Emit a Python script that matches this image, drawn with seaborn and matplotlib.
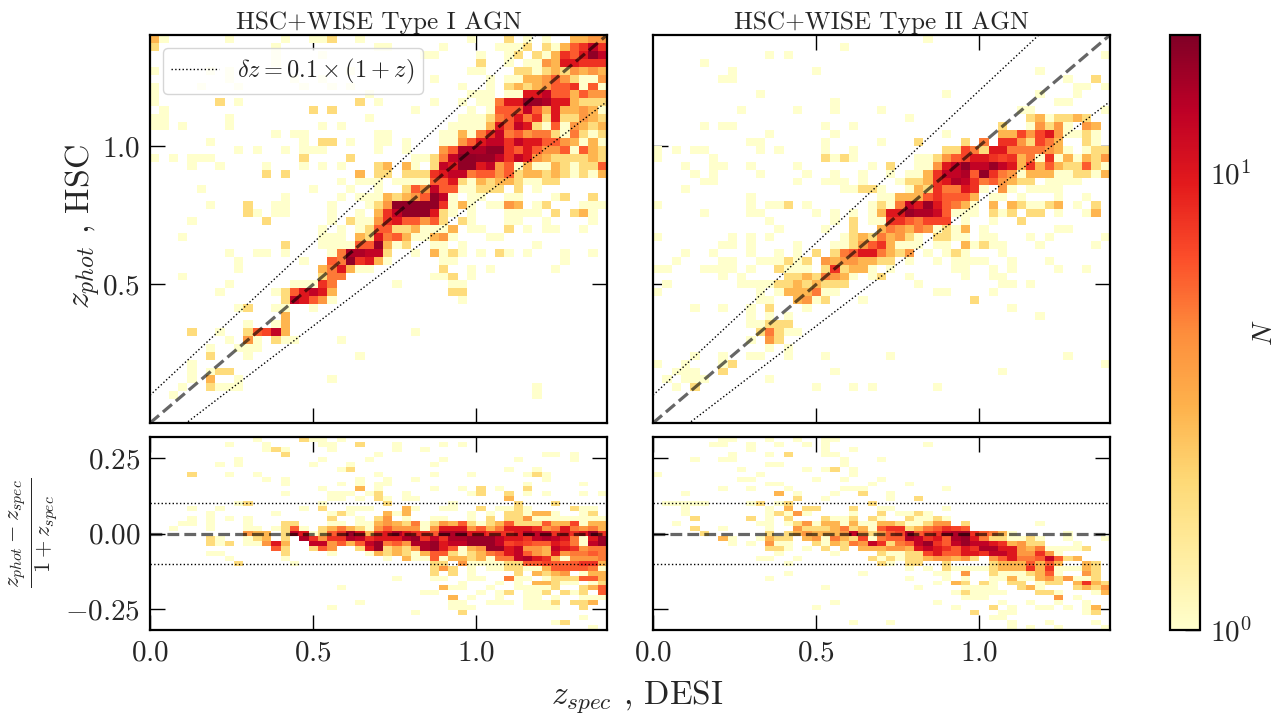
"""Photo-z vs spec-z density maps for the HSC+WISE Type I / Type II AGN samples."""
import matplotlib
matplotlib.use("Agg")
import matplotlib.pyplot as plt
import numpy as np
import seaborn as sns
from matplotlib.colors import LogNorm

sns.set_style("white")
plt.rcParams["font.family"] = "serif"
plt.rcParams["font.serif"] = ["cmr10", "DejaVu Serif"]
plt.rcParams["mathtext.fontset"] = "cm"
plt.rcParams["axes.formatter.use_mathtext"] = True
plt.rcParams["axes.unicode_minus"] = False

Z_MAX = 1.4
DZ_MAX = 0.32
N_COLS = 49
N_MAIN_ROWS = 49
N_RES_ROWS = 39

X_TICKS = [0.5, 1.0]
X_TICKS_BOTTOM = [0.0, 0.5, 1.0]
Y_TICKS_MAIN = [0.5, 1.0]
Y_TICKS_RES = [0.25, 0.0, -0.25]
Y_LABELS_RES = ["$0.25$", "$0.00$", "$-0.25$"]
CBAR_MAX = 20

# cell counts, one string per row from the top, "col:N" or "first-last:N"
TYPE1_MAIN = [
    "0:3 1:1 8:1 14:1 17-18:1 19:2 22:1 34:1 38:2 40:1 42:1 45-46:3 47-48:4",
    "0:2 13:1 24-25:1 31:1 37-39:1 40:2 42:2 43:1 44:3 45:6 46:8 47:13 48:8",
    "13:1 18:1 29-30:1 35:1 38:1 39:2 41:2 42:1 43:3 44:8 45:6 46:10 47:18 48:13",
    "13:1 35:2 38:1 40-41:1 42:4 43:3 44-45:10 46-48:8",
    "0:1 6:1 8:1 21:1 34-35:1 39-40:2 41:1 42:2 43:3 44:2 45:4 46:3 47:4 48:3",
    "8:1 15:1 18:1 30:1 36:1 38-39:1 40-41:3 42:4 43:6 44:4 45:2 46-47:1 48:4",
    "0:1 5:1 9:1 16:1 19:1 21:1 33:1 36:1 38:2 39:3 40:2 41:3 42:4 43-44:6 45:8 46:1 47:6 48:1",
    "0:1 23:1 34-36:1 38-39:1 40-41:10 42:13 43-44:6 45:3 46:6 47-48:4",
    "0:1 7:2 9:1 22:2 24:1 30:1 33:1 35-36:1 37:5 38-39:10 40-41:17 42:15 43-44:10 45:3 46-48:2",
    "1:1 17:2 19:2 28:1 34:1 36:1 37-39:6 40:13 41:6 42:3 43:10 44-45:3 46:4 47:3 48:1",
    "0-1:1 8:1 23:1 33-35:1 36:2 37:5 38:6 39:10 40:5 41:8 42:2 43:10 44-45:2 46:4 47:3 48:2",
    "0-1:1 3:1 8:1 18:1 20:1 32-35:1 36:3 37:10 38:6 39:13 40:10 41:2 42:1 43:6 44:1 45:4 46:3 47:2 48:3",
    "13:1 15-16:1 24-25:1 31-32:1 33:3 34:1 35:5 36:8 37:13 38:5 39:6 40:4 41-42:5 43:2 44:1 45:5 46:2 47:1 48:2",
    "6:1 16:1 18-19:2 21:1 24-25:1 27:1 31-32:1 33:4 34:6 35:10 36-37:13 38:8 39:13 40-41:10 42-43:6 44:4 45:3 46:1 47:3 48:1",
    "9:1 11:1 14:1 16-18:1 24:1 27:1 31:4 32:6 33-35:15 36-37:18 38:8 39:6 40:10 41:6 42-43:4 44:6 45:1 46:6 47:3 48:2",
    "0:1 2:1 4-6:1 16:2 21:2 28-29:1 30:2 31:5 32:13 33-34:18 35-36:17 37:13 38:8 39:13 40:10 41:4 42:3 43-46:2 47:3 48:2",
    "4:1 7:1 12:1 16:1 18:1 20:1 24:2 25:3 27:3 28:1 30:2 31:13 32:10 33-34:18 35:10 36:13 37:4 38:6 39:1 40:3 41-42:1 43:3 44:2 45:1 46-47:2 48:6",
    "12:2 14:2 22:3 24-25:2 27-29:2 30:8 31:10 32-33:13 34:5 35-36:6 37:4 38:6 39:2 40-41:3 42:2 43:3 44:2 45:1 46:2 47:1 48:3",
    "20:1 22-24:1 26-29:1 30-31:6 32:10 33:2 34:1 35:3 36:2 37-38:3 39:2 40-41:1 42-43:2",
    "5:1 17:1 21:1 24:1 27:2 28:6 29:4 30:13 31-32:6 33-34:1 35-37:2 39:2 41:1",
    "14:1 20:1 22-23:1 24:1 25:3 26:2 27:3 28:4 29:6 30:18 31:13 32:1 34-35:1 38-39:1 43:1 44:2 47:2",
    "6:1 10:2 13-14:1 19:1 23:1 24:2 25:4 26-30:18 31:8 32:1 33:3 34:1 36-37:1 38:4 39:3 41:1 42:2 46-48:1",
    "10:2 11:1 13-14:1 19:1 22:1 24:3 25:8 26:13 27-29:18 30:10 31:2 32:1 34:1 38-41:1 43:2 45:2 46:3 47:1",
    "4:1 12:2 19:1 21:2 22-23:1 24:4 25:8 26:10 27-28:6 29:4 30:6 31:2 33:2 34:1 38-39:1 42:1 47:1",
    "18:1 20:1 22:1 23:2 24:6 25:6 26-27:2 28:3 29-31:1 32:3 34-35:1 38:2 40:1 42-43:1 46:1",
    "3:1 18-20:1 22:3 23:2 24:10 25:5 26:6 27:3 28-29:1 30:3 31:4 32:1 36-37:1",
    "14:2 18-21:1 22-23:6 24:17 25:3 26:1 27:2 30-31:1 33:1 41:1",
    "8:1 11-12:1 14:1 19:1 20:5 21-22:15 23-24:13 25:2 28:1 30:3 31:1 32:2 33:1 35:1 37:2 38:1 40:1 44:1 47:1",
    "9:1 16:1 19:6 20:5 21:18 22:8 23:10 24:3 25:1 31-32:1 44:1",
    "9:1 18:3 19:5 20:10 21:3 22-23:1 31:2 34:1 36:1 43:1",
    "3:1 18:2 19-20:5 30-31:1 32:2 34:1",
    "8:1 15-17:1 18:8 19:5 26:1 32-33:1",
    "7:1 13:1 14:2 15:6 16:10 17:13 18:10 19:3 32-33:2",
    "14:2 15:13 16:10 17:6 18:4 19:1 33:1",
    "9:1 10:2 13-14:1 17:1",
    "14:3",
    "10:1 13:1 14:3",
    "4:2 7:1 10:2 11:6 12:7 13:13 14:3 28:1",
    "8:1 10:4 11:1 13:2 14-15:1 20:1",
    "6:1 9-11:1",
    "6:2 10:1 22:1",
    "4:1",
    "4:1 6:1 7-8:2",
    "4:1 6:3 9:1 19:1",
    "3:1 6:2 7-9:1 41:1",
    "2:1 41:1",
    "", "", "",
]

TYPE2_MAIN = [
    "29:1",
    "20:1",
    "12:1 14:1 48:1",
    "5:1",
    "8:1 17:1 41:1",
    "7-8:1 44:1 47:2",
    "45-46:1 48:1",
    "11:1 31:1 41:1 45:1",
    "19:1 43-44:1",
    "9:1 15:1 19:1 24:1 39-40:1 48:1",
    "27:1 40:2 41:3 42:1 43-44:2 45:3 46:2",
    "5:1 7-8:1 18:1 21:1 37:2 40:1 41:4 42:2 43:4 44:1 46:4 47:3",
    "12:1 19:1 31:1 37-38:3 39:7 40:4 41:7 42:10 43:4 44-45:1 46:2 47:1",
    "10-11:1 18:1 24:1 28:2 33:2 35:5 37-38:8 39:4 40:2 41:7 42:5 43:3 46:2 47:1",
    "0:1 2:1 4-5:1 11:1 13:1 18:1 21:1 31-32:2 33:7 34:5 35:2 36-37:10 38-41:5 42:4 43:3 44:1 46:1 47-48:2",
    "0:1 6:1 18:2 19:1 20:2 21:1 28-29:1 30:2 31:4 32:6 33:7 34-35:10 36:8 37:7 38:8 39:3 40:5 41:1 42:8 43:1 44:3 45:1 46:3 47:2 48:4",
    "3:1 6-7:1 10:1 15:1 23:1 25:2 28-29:1 30:4 31:10 32:13 33:18 34-35:13 36:17 37:13 38:10 39:3 40:8 41:3 42:6 43:3 44-45:2 46:6 47:2 48:1",
    "4:1 6:1 11:1 16:1 19:1 22:1 25:1 27-28:1 29:3 30:8 31-32:13 33:15 34:6 35:18 36:8 37:5 38:4 39:1 40-42:3 43-44:1 45-46:2 47:1 48:3",
    "5-6:1 15:1 18-20:1 22:1 26:1 27-28:2 29:3 30:8 31:10 32:15 33:13 34:8 35:5 36:6 37:4 38:3 39-40:2 42-45:1",
    "3:1 20-21:1 22-23:2 24:1 27:1 28:3 29:2 30:8 31-32:5 33:10 34:8 35:1 37:4 38:1 40-43:1",
    "10:1 24-25:1 26-28:3 29:6 30:8 31-33:6 34:3 36-37:1 39:1 43:1 46:1",
    "0:1 10:1 12-13:1 14:2 16:1 23:1 24:2 25:1 26:5 27:13 28:10 29:17 30:10 31:6 32:5 33:3 34:1 36:3 38:3 39:2 40-41:1 42:2 43:3 45:1 47:2",
    "5:1 10-11:1 17:1 19:1 21:1 23:1 24:3 25:10 26:10 27:17 28-29:15 30:12 31:6 32-34:1 36:2 37:1 38:2 40-41:2 43:1 46:1 47:3",
    "12:1 19:1 21:2 23:1 24:1 25-26:8 27:6 28:5 29-31:7 33:1 36:1 39:2",
    "13:1 18:1 21:2 24:3 25:5 26:4 27:3 28:5 29:4 30:1 31:2 32:1 33:3 35:1 43-44:1",
    "0:1 8:1 10:1 12:1 20:1 21:2 22:3 23:2 24:5 25:3 26:4 27:2 28:1 30-31:2 32-33:1 35-36:1 40:1 42:1 48:1",
    "7-8:1 10:1 15:1 19-20:1 21:2 22:4 23:6 24:8 25:3 26-28:1 30-31:1 33:3 34:1 35:2 36-37:1 41:1 47:1",
    "3:1 6:1 10:1 13:1 15:1 17:2 19:2 20:5 21:6 22-23:10 24:5 25:3 26:2 27:4 29:1 31:1 32:2 33:1 37:1",
    "2:1 7-8:1 11-13:1 14:2 15:1 16:2 18:4 19:3 20-21:4 22-23:3 24-25:2 27:1 30:1 32-35:1 38:1 42:1",
    "0-1:1 5-8:1 10:1 13:2 14-16:1 18:2 19:8 20:2 21-22:3 23:1 25:1 32-33:1 36:1 38:1 43:1 46:1",
    "7:1 9:1 14-15:2 16:3 17:2 18:5 19:4 20:3 21:1 23:1 24:2 27:1 33:1 36-37:1",
    "1:1 9-12:1 13-14:2 15:3 16:2 17:3 18-20:2 28:1 37-38:1 40:1",
    "0:1 11:1 13:1 14-16:3 17:5 18-19:1 30-31:1 36:1",
    "11-12:1 15:3 16:4 17:1 18:2 22:1 34:2",
    "4:1 7:1 10:1 12:2 16:1 38:1",
    "10:1 12:1 14:1 41:1",
    "10-11:1 12:2 13-14:2",
    "11:2 12:5 13:2 14-15:1",
    "10:1 12:4 13:2",
    "12:1 14:1",
    "4:1 7:1 10-11:1 14:1 18:1 25:1 44:1",
    "0:1 3:1 7:1 8:2 48:1",
    "2-4:1 7:2 19:1 37:1",
    "1:1 3-5:1 12:1",
    "2:1 4:2 17:1 21:1 23:1 30:1",
    "", "", "", "",
]

TYPE1_RES = [
    "11:1 16:2 17-18:1 20:1",
    "8:1 12:1 18-19:1 22:2 26:1 31:1 33:1",
    "12:1 13:2 14:1 19:1 26:1 29:1",
    "14:2 24:1 42-43:1 45:1",
    "9:1 18:1 23:1 31:1 39:1 45:1",
    "7:1 9:1 17:1 21:1 30:1",
    "20:1 21:2 38:1 41:1",
    "4:2 8:1 11:1 24:1 30:1 34:1 40:1 41:2 42:1",
    "12:1 14:1 22:1 25:1 28:1 42:1",
    "14:1 20:1 22:1 24-25:1 40:1 46:1",
    "18:1 22:3 24:1 30:1 33:1 35:2 37:1 40:2",
    "14:1 19-21:1 23:1 24:2 27:1 34:1 35:2 38:2 40:1 42:1 46:1 48:1",
    "19-20:1 22:1 24:2 25:1 27-28:1 38:3",
    "9:1 10:2 18:1 25:2 32:1 39:2 43:2",
    "4:1 7:1 16:1 18:2 21-23:1 27:3 28:1 31-32:1 35:2 37-38:1 39:2 40:1 45:2 46-47:1",
    "6:1 13:1 19:1 20:2 21:1 25:3 26:1 27:3 34:1 36:1 38-39:2 40:1 41-42:3 43:1 46:1 47:2",
    "4:1 6:1 8:1 10:1 19:2 22:1 24:2 25:4 27:1 30-31:1 34:1 36:2 38-39:2 40:4 41-42:1 43-47:1 48:1",
    "3-4:1 6:1 10:1 14-15:2 19-20:1 22-23:1 24:3 25:4 26:3 27:2 28:5 29:1 30:2 31:4 32:3 33:6 34:2 35:1 36:2 37:3 38:6 39-41:2 42:6 43-44:3 45:7 46:1 47-48:3",
    "2:1 6:1 10-11:1 13:1 14:2 15:6 16:1 18:2 19:3 20:5 21:3 22:2 23:1 24:4 25:6 26-28:4 29:1 30:4 31-33:10 34:4 35:6 36:3 37:5 38-40:10 41:8 42:4 43:5 44:10 45:5 46:4 47:5 48:3",
    "10:4 11-12:3 14:2 15:13 16:10 17:1 18:2 19:6 20:8 21:17 22:10 23:3 24:8 25:10 26:15 27:10 28-29:8 30:6 31-33:15 34-35:10 36-38:8 39:10 40:15 41-42:13 43:8 44:10 45:8 46:10 47:17 48:8",
    "6:2 7:1 10:1 11:2 12:3 14:2 16:15 17:8 18:4 19-20:8 21:15 22:13 23:8 24-26:10 27:15 28:17 29:8 30:13 31:8 32-33:15 34-36:17 37:13 38-39:10 40:8 41:13 42:15 43:13 44:10 45:5 46:1 47:10 48:17",
    "6:2 7:1 8:2 10-11:1 12:4 13:10 14:3 17-18:13 19:4 20:6 21:3 22:6 23:13 24:17 25:5 26:6 27:4 28-29:15 30:17 31:10 32-33:13 34-36:17 37:13 38:7 39:8 40:7 41-42:6 43:10 44:8 45:5 46:1 47:13 48:17",
    "13:6 14:2 17:2 18:6 19:4 22:2 23:10 24:17 25:2 26:3 27:2 28:4 29:15 30:17 31:10 32:6 33:1 34:3 35:4 36-37:17 38:10 39:13 40-41:4 42:3 43:13 44:10 45:8 46:4 47-48:5",
    "6-7:1 14:2 19:1 23:1 24:3 25:2 26:3 27:2 28:1 29:3 30-31:6 32:2 33:1 34:2 35:3 36:5 37:6 38:10 39:13 40:6 41:4 42:3 43:10 44:4 45-46:5 47:6 48:5",
    "8:1 14:1 25:1 27:3 28-29:1 30:6 31:1 32-33:3 34:2 35:3 36:1 37-38:5 39:13 40:15 41:10 42:8 43:3 44:1 45-47:4 48:5",
    "9:2 15:1 30-31:2 33:4 34-37:1 38-39:2 40-41:6 42:7 43-45:6 46-47:8 48:3",
    "30:2 31:4 32:2 34:1 36-37:1 38-39:2 40-41:1 42:3 43-46:6 47:5 48:1",
    "30:2 32:2 34:1 39:2 41:3 42:2 43:3 44:4 46:1 47-48:3",
    "26:1 30-31:1 34-35:1 38:5 39-40:1 42:1 43:2 44-45:2 46-47:6 48:3",
    "33:1 37:1 39:1 41-42:3 43:2 44-45:1 47:1 48:2",
    "20:1 31:3 32-33:1 36:1 39-42:1 43:2 46:2 47:3 48:6",
    "29-30:1 35:1 37:1 38:2 40-41:1 42:2 44:2 45:1 46:2 48:6",
    "32:3 34:1 37:1 40-41:1 43:1 46-48:1",
    "22:1 32-33:1 36-38:1 40-42:1 43:2 45-46:2 47:3",
    "19:1 32-34:1 40-43:1 46:2",
    "28:1 33:2",
    "46:1",
    "43:1 44:2",
    "47:1",
]

TYPE2_RES = [
    "7-8:1 12:1 15:1 18-19:1",
    "6-7:1 10:1 13:1 16:1 18:1 29:1",
    "10:1 18:1 21:1",
    "8:1 12:1 14:2 18-19:1",
    "4:1 7-8:1 20:1 24:1",
    "12-13:1 20:1",
    "9:1 16:1 18:1 19:2 21:1",
    "0:1 11:1 21:1",
    "9-10:1 17:1 20:1 24:1 24:1",
    "12-13:1 23:1 27:1",
    "7:1 10:1 14:1 20-22:1 31:1",
    "3:1 13:3 15:1 19:1 22:2 25:1",
    "15:2 18:1 25:1 28:2",
    "1-5:1 10:1 11:2 13:1 14:2 23:2",
    "3:1 12:1 14:3 16-17:2 21:2 24-25:1 31:1",
    "3:1 12:1 13:2 14:1 15:4 16:1 21:1 24:2 26-27:1 28:2 29:1",
    "4:2 10:2 12:1 14:2 18:2 19-20:1 21:2 23:2 24:1 27:2 28-29:1 30:2 31:1",
    "2:1 11-12:1 14:1 15:2 16:4 17:1 18-19:3 20:1 21:3 22-23:1 24-25:3 26:2 27-28:1 29:2 30-31:4 33:2 41:1",
    "4:2 7:1 12:1 15:4 16-17:2 18:2 19:3 20:5 21:2 22:3 23:1 24:6 25-26:8 27:2 28:3 29:5 30:6 31:8 32:7 33:6",
    "5:2 12:2 14:2 15:3 16:4 17-19:3 20:4 21:13 22:4 23:2 24:4 25:6 26:7 27:15 28:6 29:7 30:8 31:13 32:15 33:16 34:8 35:6 36:5 37:3 38:1 44:1",
    "7:3 8:1 11:1 12:3 13-14:2 16:3 17:4 18:1 19:5 20:3 21:2 22:7 23:1 24:5 25-26:6 27:15 28:13 29:8 30:10 31:6 32:15 33:17 34:10 35:5 36-37:2 38-39:1 40:2 41:1 44:1 48:1",
    "8:1 10:1 12:4 13-14:1 17:2 18:1 19:3 20:2 21:5 22:4 23:13 24:8 25:2 26:5 27:6 28:13 29:17 30:8 31:6 32:13 33:17 34-35:13 36:10 37:8 38:3 39:4 40-41:2 45:1",
    "12:2 13:2 14:1 16:1 18:2 20:2 22-23:3 24:3 25-26:4 27:3 28:10 29:13 30:10 31:8 32:6 33:10 34:8 35-36:15 37-38:10 39:4 40:3 41:5 42-45:1 46:2",
    "13:1 19:1 24:2 25-26:1 27-28:2 29:7 30:10 31-32:6 33-34:10 35:8 36-37:13 38:10 39-40:4 41:8 42:4 43:1",
    "11-12:1 15:1 23:2 24:1 25:2 26:1 27-28:2 29:3 30-31:4 32:3 33:4 34:2 36:4 37:6 38:10 39-40:5 41:6 42:13 43:6 44:2 45:3",
    "14:1 24:2 25:1 27-28:2 31:2 36:2 37-39:3 40:6 41:3 42:6 43:3 46:3 47:2",
    "27:1 29:1 31:2 32-35:1 36:2 37-39:3 40:8 41:3 42:8 43-45:1 46:3 47:2",
    "14:1 22:1 30-31:1 33:4 36:2 37-39:1 40:2 41:3 42:6 43:1 46:4 47:2",
    "12:1 27:1 31:1 33:1 36-37:1 38:3 39-40:1 41:3 42:4 43:2 44:4 45-46:1 47:2",
    "30:1 32:3 33:2 35:2 36:1 38-39:2 41:1 42-43:2 45:3 46:8 47:3 48:2",
    "18:1 28:1 33-36:1 39:2 40:3 41:1 45:2 46:3 47:2 48:4",
    "32:1 33:2 34-37:1 41-42:2 43:1 47:1 48:3",
    "33-35:1 43:4 45:1",
    "19:1 30:1 37:1 40:1 43:1 46:1",
    "17:1 32:1 36:2 38:1 41-42:1 44:1 46:1 47:3",
    "34:2 37-38:1 46:1 47:2",
    "36-37:1",
    "21:1 25:1 38:1 42:1 47:1",
    "38:1 40:1 43:1 48:1",
]


def to_grid(rows):
    grid = np.zeros((len(rows), N_COLS))
    for r, row in enumerate(rows):
        for item in row.split():
            cols, n = item.split(":")
            first, _, last = cols.partition("-")
            grid[r, int(first):int(last or first) + 1] = int(n)
    return grid


def x_cell(z):
    return np.asarray(z) / Z_MAX * N_COLS


def y_main(z):
    return (Z_MAX - np.asarray(z)) / Z_MAX * N_MAIN_ROWS


def y_res(dz):
    return (DZ_MAX - np.asarray(dz)) / (2 * DZ_MAX) * N_RES_ROWS


W, H = 1283, 718
fig = plt.figure(figsize=(W / 100, H / 100), dpi=100)


def px_axes(x0, y0, x1, y1):
    return fig.add_axes([x0 / W, 1 - y1 / H, (x1 - x0) / W, (y1 - y0) / H])


ax_t1 = px_axes(150, 35, 607, 423)
ax_t2 = px_axes(653, 35, 1110, 423)
ax_r1 = px_axes(150, 437, 607, 630)
ax_r2 = px_axes(653, 437, 1110, 630)
cax = px_axes(1170, 35, 1200, 630)

norm = LogNorm(vmin=1, vmax=CBAR_MAX)
panels = [(ax_t1, TYPE1_MAIN), (ax_t2, TYPE2_MAIN), (ax_r1, TYPE1_RES), (ax_r2, TYPE2_RES)]
for ax, rows in panels:
    grid = to_grid(rows)
    sns.heatmap(grid, mask=grid == 0, cmap="YlOrRd", norm=norm, ax=ax, cbar=ax is ax_t1,
                cbar_ax=cax if ax is ax_t1 else None, xticklabels=False, yticklabels=False)
    ax.set_facecolor("white")
    for s in ax.spines.values():
        s.set_visible(True)
        s.set_linewidth(1.6)
        s.set_color("black")

line_x = np.array([0, Z_MAX])
for ax in (ax_t1, ax_t2):
    ax.plot(x_cell(line_x), y_main(1.1 * line_x + 0.1), color="black", ls=":", lw=1,
            label=r"$\delta z = 0.1 \times (1 + z)$")
    ax.plot(x_cell(line_x), y_main(0.9 * line_x - 0.1), color="black", ls=":", lw=1)
    ax.plot(x_cell(line_x), y_main(line_x), color="black", alpha=0.6, ls="--", lw=2.3)
    ax.set_yticks(y_main(Y_TICKS_MAIN))
    ax.set_xticks(x_cell(X_TICKS))
    ax.set_xticklabels([])
for ax in (ax_r1, ax_r2):
    ax.plot(x_cell(line_x), y_res([0.1, 0.1]), color="black", ls=":", lw=1)
    ax.plot(x_cell(line_x), y_res([-0.1, -0.1]), color="black", ls=":", lw=1)
    ax.plot(x_cell(line_x), y_res([0, 0]), color="black", alpha=0.6, ls="--", lw=2.3)
    ax.set_yticks(y_res(Y_TICKS_RES))
    ax.set_xticks(x_cell(X_TICKS_BOTTOM))
    ax.set_xticklabels([f"${v:.1f}$" for v in X_TICKS_BOTTOM], fontsize=21)

ax_t1.set_yticklabels([f"${v:.1f}$" for v in Y_TICKS_MAIN], fontsize=21)
ax_r1.set_yticklabels(Y_LABELS_RES, fontsize=21)
ax_t2.set_yticklabels([])
ax_r2.set_yticklabels([])

for ax in (ax_t1, ax_t2, ax_r1, ax_r2):
    ax.set_xlim(0, N_COLS)
    ax.tick_params(axis="both", which="major", direction="in", length=10.5, width=1,
                   top=True, right=True, left=True, bottom=True, pad=7, color="black")
    for lab in ax.get_xticklabels() + ax.get_yticklabels():
        lab.set_rotation(0)
ax_t1.set_ylim(N_MAIN_ROWS, 0)
ax_t2.set_ylim(N_MAIN_ROWS, 0)
ax_r1.set_ylim(N_RES_ROWS, 0)
ax_r2.set_ylim(N_RES_ROWS, 0)

ax_t1.set_title("HSC+WISE Type I AGN", fontsize=18.2, pad=4)
ax_t2.set_title("HSC+WISE Type II AGN", fontsize=18.2, pad=4)

leg = ax_t1.legend(loc="upper left", bbox_to_anchor=(0.012, 0.985), fontsize=17.5, frameon=True,
                   borderaxespad=0.3, handlelength=1.95, handletextpad=0.75, borderpad=0.35)
leg.get_frame().set_edgecolor("#cccccc")
leg.get_frame().set_alpha(0.8)

fig.text(83 / W, 1 - 227 / H, r"$z_{phot}$ , HSC", rotation=90, fontsize=24.5, ha="center", va="center")
fig.text(34 / W, 1 - 533 / H, r"$\frac{z_{phot} - z_{spec}}{1 + z_{spec}}$", rotation=90, fontsize=23,
         ha="center", va="center")
fig.text(637 / W, 1 - 697 / H, r"$z_{spec}$ , DESI", fontsize=24, ha="center", va="center")

cb = ax_t1.collections[0].colorbar
cb.outline.set_visible(True)
cb.outline.set_linewidth(1.6)
cb.outline.set_edgecolor("black")
cb.ax.tick_params(which="major", direction="in", length=10.5, width=1, labelsize=21, pad=7, color="black")
cb.ax.tick_params(which="minor", direction="in", length=5, width=0.8, color="black")
cb.ax.yaxis.set_ticks_position("right")
fig.text(1265 / W, 1 - 333 / H, "$N$", rotation=90, fontsize=20, ha="center", va="center")

fig.savefig("out.png", dpi=100)
